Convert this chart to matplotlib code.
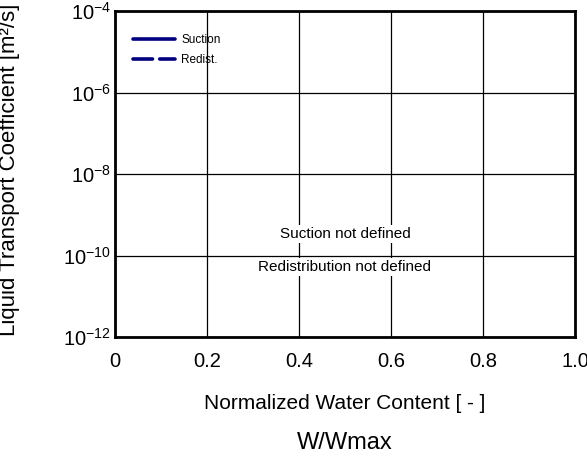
import matplotlib
matplotlib.use("Agg")
import matplotlib.pyplot as plt
from matplotlib.ticker import FixedLocator, FixedFormatter

plt.rcParams['font.family'] = ['Liberation Sans', 'DejaVu Sans']
plt.rcParams['mathtext.fontset'] = 'custom'
plt.rcParams['mathtext.rm'] = 'Liberation Sans'
plt.rcParams['mathtext.it'] = 'Liberation Sans:italic'

# Data (no curves defined)
suction_w = []
suction_k = []
redist_w = []
redist_k = []

x_ticks = [0, 0.2, 0.4, 0.6, 0.8, 1.0]
x_ticklabels = ["0", "0.2", "0.4", "0.6", "0.8", "1.0"]
y_ticks = [1e-12, 1e-10, 1e-8, 1e-6, 1e-4]
y_ticklabels = [r"$10^{-12}$", r"$10^{-10}$", r"$10^{-8}$", r"$10^{-6}$", r"$10^{-4}$"]

line_color = "#000080"

fig = plt.figure(figsize=(5.87, 4.65), dpi=100)
W, H = 587, 465
left, right, top, bottom = 115, 575, 11, 337
ax = fig.add_axes([left / W, 1 - bottom / H, (right - left) / W, (bottom - top) / H])

ax.plot(suction_w, suction_k, color=line_color, lw=2.6, label="Suction",
        solid_capstyle="round")
ax.plot(redist_w, redist_k, color=line_color, lw=2.6, linestyle=(0, (5.4, 2.0)),
        label="Redist.", dash_capstyle="round")

ax.set_yscale("log")
ax.set_xlim(0, 1.0)
ax.set_ylim(1e-12, 1e-4)
ax.xaxis.set_major_locator(FixedLocator(x_ticks))
ax.xaxis.set_major_formatter(FixedFormatter(x_ticklabels))
ax.yaxis.set_major_locator(FixedLocator(y_ticks))
ax.yaxis.set_major_formatter(FixedFormatter(y_ticklabels))
ax.yaxis.set_minor_locator(FixedLocator([]))
ax.tick_params(axis="both", which="both", length=0, labelsize=14.5, colors="black")
ax.tick_params(axis="x", pad=10.5)
ax.tick_params(axis="y", pad=3)
ax.grid(True, color="black", linewidth=0.9)
ax.set_axisbelow(True)
for s in ax.spines.values():
    s.set_linewidth(2)
    s.set_color("black")

leg = ax.legend(loc="upper left", bbox_to_anchor=(0.04, 0.93), frameon=False,
                fontsize=8.5, handlelength=3.5, handletextpad=0.55, labelspacing=0.7,
                borderaxespad=0.0, borderpad=0.0)

ax.text(0.5, 10 ** -9.47, "Suction not defined", ha="center", va="center", fontsize=11,
        bbox=dict(facecolor="white", edgecolor="none", pad=1.5), zorder=5)
ax.text(0.5, 10 ** -10.28, "Redistribution not defined", ha="center", va="center", fontsize=11,
        bbox=dict(facecolor="white", edgecolor="none", pad=1.5), zorder=5)

fig.text(345 / W, 1 - 403 / H, "Normalized Water Content [ - ]", ha="center", va="center", fontsize=15)
fig.text(345 / W, 1 - 443 / H, "W/Wmax", ha="center", va="center", fontsize=17)
fig.text(10 / W, 1 - 170 / H, "Liquid Transport Coefficient [m²/s]", ha="center", va="center",
         rotation=90, fontsize=16)

fig.savefig("out.png", dpi=100, facecolor="white")
